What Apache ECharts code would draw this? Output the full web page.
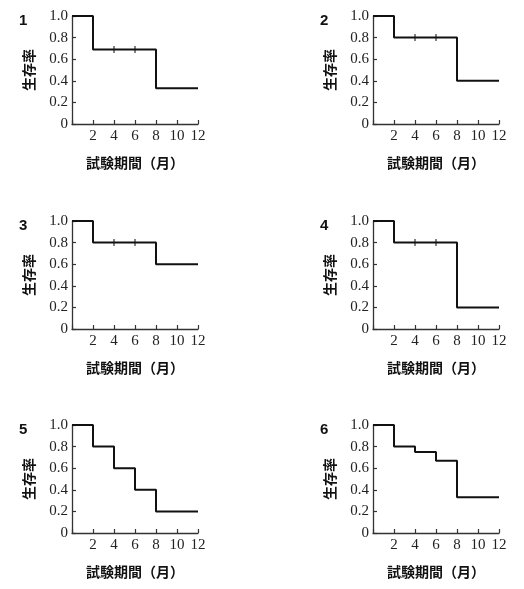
<!DOCTYPE html>
<html lang="ja">
<head>
    <meta charset="UTF-8">
    <title>生存率</title>
    <script type="text/javascript" src="https://cdn.jsdelivr.net/npm/echarts@6/dist/echarts.min.js"></script>
    <style>
        html, body { margin: 0; padding: 0; background: #fff; }
        #main { width: 524px; height: 589px; }
    </style>
</head>
<body>
<div id="main"></div>
<script type="text/javascript">
    // 時間（月）
    var months = [0, 2, 4, 6, 8, 12];
    // 各パネルの生存率
    var surv1 = [1.0, 0.69, 0.69, 0.69, 0.33, 0.33];
    var surv2 = [1.0, 0.8, 0.8, 0.8, 0.4, 0.4];
    var surv3 = [1.0, 0.8, 0.8, 0.8, 0.6, 0.6];
    var surv4 = [1.0, 0.8, 0.8, 0.8, 0.2, 0.2];
    var surv5 = [1.0, 0.8, 0.6, 0.4, 0.2, 0.2];
    var surv6 = [1.0, 0.8, 0.75, 0.67, 0.33, 0.33];
    // 打ち切り（censor）の時点
    var censor1 = [4, 6];
    var censor2 = [4, 6];
    var censor3 = [4, 6];
    var censor4 = [4, 6];
    var censor5 = [];
    var censor6 = [];
    var panelNames = ['1', '2', '3', '4', '5', '6'];

    var allSurv = [surv1, surv2, surv3, surv4, surv5, surv6];
    var allCensor = [censor1, censor2, censor3, censor4, censor5, censor6];

    // grid の位置 (left, top)
    var pos = [[72, 16], [373, 16], [72, 221], [373, 221], [72, 425], [373, 425]];
    var gw = 126, gh = 108;

    var serif = "'Liberation Serif', 'DejaVu Serif', serif";
    var cjk = "'Noto Sans CJK JP', 'Noto Sans CJK SC', sans-serif";

    var option = {
        backgroundColor: '#fff',
        animation: false,
        title: [],
        grid: [],
        xAxis: [],
        yAxis: [],
        series: []
    };

    for (var i = 0; i < 6; i++) {
        option.title.push({
            text: panelNames[i],
            left: pos[i][0] - 58,
            top: pos[i][1] - 8,
            textStyle: {fontFamily: "'Liberation Sans Narrow', 'Liberation Sans', sans-serif", fontWeight: 'bold', fontSize: 15, color: '#111'}
        });
        option.grid.push({left: pos[i][0], top: pos[i][1], width: gw, height: gh});
        option.xAxis.push({
            type: 'value', gridIndex: i, min: 0, max: 12, interval: 2,
            name: '試験期間（月）', nameLocation: 'middle', nameGap: 32,
            nameTextStyle: {fontFamily: cjk, fontWeight: 'bold', fontSize: 14, color: '#111'},
            axisLine: {lineStyle: {color: '#333', width: 1.3}},
            axisTick: {inside: true, length: 4, lineStyle: {color: '#333', width: 1.2}},
            axisLabel: {
                fontFamily: serif, fontSize: 15, color: '#222', margin: 5,
                formatter: function (v) { return v === 0 ? '' : String(v); }
            },
            splitLine: {show: false}
        });
        option.yAxis.push({
            type: 'value', gridIndex: i, min: 0, max: 1, interval: 0.2,
            name: '生存率', nameLocation: 'middle', nameGap: 36, nameRotate: 90,
            nameTextStyle: {fontFamily: cjk, fontWeight: 'bold', fontSize: 14, color: '#111'},
            axisLine: {show: true, lineStyle: {color: '#333', width: 1.3}},
            axisTick: {show: true, inside: true, length: 4, lineStyle: {color: '#333', width: 1.2}},
            axisLabel: {
                fontFamily: serif, fontSize: 15, color: '#222', margin: 4,
                formatter: function (v) { return v === 0 ? '0' : v.toFixed(1); }
            },
            splitLine: {show: false}
        });

        var stepData = [];
        for (var j = 0; j < months.length; j++) {
            stepData.push([months[j], allSurv[i][j]]);
        }
        option.series.push({
            type: 'line', xAxisIndex: i, yAxisIndex: i, step: 'end',
            data: stepData, showSymbol: false, symbol: 'none',
            lineStyle: {color: '#111', width: 2}
        });

        var cData = [];
        for (var k = 0; k < allCensor[i].length; k++) {
            var t = allCensor[i][k];
            cData.push([t, allSurv[i][months.indexOf(t)]]);
        }
        option.series.push({
            type: 'scatter', xAxisIndex: i, yAxisIndex: i,
            data: cData, symbol: 'rect', symbolSize: [1.3, 7],
            itemStyle: {color: '#111'}
        });
    }

    var myChart = echarts.init(document.getElementById('main'));
    myChart.setOption(option);
</script>
</body>
</html>
